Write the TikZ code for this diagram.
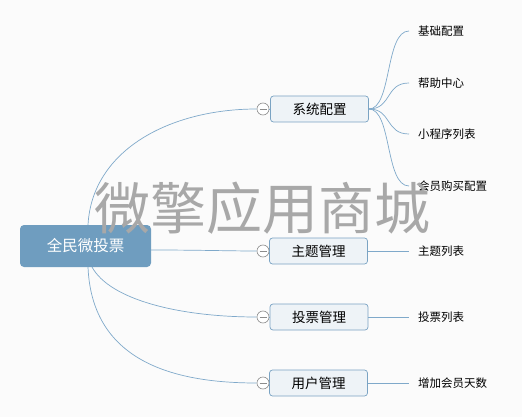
\documentclass[tikz,border=0pt]{standalone}
\usepackage{fontspec}
\setmainfont{Noto Sans CJK SC}
\newfontfamily\cjk{Noto Sans CJK SC}
\definecolor{bgc}{HTML}{FBFBFB}
\definecolor{rootfill}{HTML}{6F9DBF}
\definecolor{edgec}{HTML}{7FA9CA}
\definecolor{brfill}{HTML}{EEF3F7}
\definecolor{brdraw}{HTML}{7AA3C3}
\definecolor{wmc}{HTML}{A8A8A8}
\begin{document}
\begin{tikzpicture}[x=1pt,y=-1pt,
  rootbox/.style={draw=none,fill=rootfill,rounded corners=4pt,minimum width=131pt,minimum height=42pt,text=white,font=\cjk\fontsize{15.5}{17}\selectfont,inner sep=0pt},
  brbox/.style={draw=brdraw,fill=brfill,rounded corners=3pt,minimum width=98pt,minimum height=26pt,font=\cjk\fontsize{13.5}{15}\selectfont,inner sep=0pt,line width=0.7pt},
  leaf/.style={anchor=west,inner xsep=9pt,inner ysep=2pt,font=\cjk\fontsize{11.5}{13}\selectfont},
  conn/.style={draw=edgec,line width=0.7pt},
  togg/.style={circle,draw=gray!90,fill=white,minimum size=12pt,inner sep=0pt,line width=0.6pt}]
\fill[bgc] (0,0) rectangle (522,417);
\useasboundingbox (0,0) rectangle (522,417);

\node[rootbox] (root) at (85.5,246) {全民微投票};
\node[brbox] (b1) at (319.5,109) {系统配置};
\node[brbox] (b2) at (318.5,251) {主题管理};
\node[brbox] (b3) at (319,317) {投票管理};
\node[brbox] (b4) at (318.5,383) {用户管理};

\node[togg] (t1) at (263,109) {};
\node[togg] (t2) at (263,251) {};
\node[togg] (t3) at (263,317) {};
\node[togg] (t4) at (263,383) {};

\coordinate (r1) at (88,225);
\coordinate (r2) at (151,250);
\coordinate (r3) at (92,267);
\coordinate (r4) at (88,267);

\draw[conn] (r1) .. controls (92,150) and (170,109) .. (t1.west);
\draw[conn] (r2) .. controls (200,250) and (230,251) .. (t2.west);
\draw[conn] (r3) .. controls (110,300) and (180,317) .. (t3.west);
\draw[conn] (r4) .. controls (92,365) and (180,383) .. (t4.west);
\foreach \t/\b in {t1/b1,t2/b2,t3/b3,t4/b4}{
  \draw[conn] (\t.east) -- (\b.west);
  \draw[gray!90,line width=0.6pt] ([xshift=-3.5pt]\t.center) -- ([xshift=3.5pt]\t.center);
}

\node[leaf] (l1) at (409,31) {基础配置};
\node[leaf] (l2) at (409,83) {帮助中心};
\node[leaf] (l3) at (409,134) {小程序列表};
\node[leaf] (l4) at (409,186) {会员购买配置};
\node[leaf] (l5) at (409,251) {主题列表};
\node[leaf] (l6) at (409,317) {投票列表};
\node[leaf] (l7) at (409,383) {增加会员天数};

\draw[conn] (b1.east) .. controls (392,109) and (385,31) .. (l1.west);
\draw[conn] (b1.east) .. controls (392,109) and (385,83) .. (l2.west);
\draw[conn] (b1.east) .. controls (392,109) and (385,134) .. (l3.west);
\draw[conn] (b1.east) .. controls (392,109) and (385,186) .. (l4.west);
\draw[conn] (b2.east) -- (l5.west);
\draw[conn] (b3.east) -- (l6.west);
\draw[conn] (b4.east) -- (l7.west);

\node[text=wmc,font=\cjk\fontsize{56}{60}\selectfont,inner sep=0pt] (wm) at (262,208) {微擎应用商城};
\end{tikzpicture}
\end{document}
